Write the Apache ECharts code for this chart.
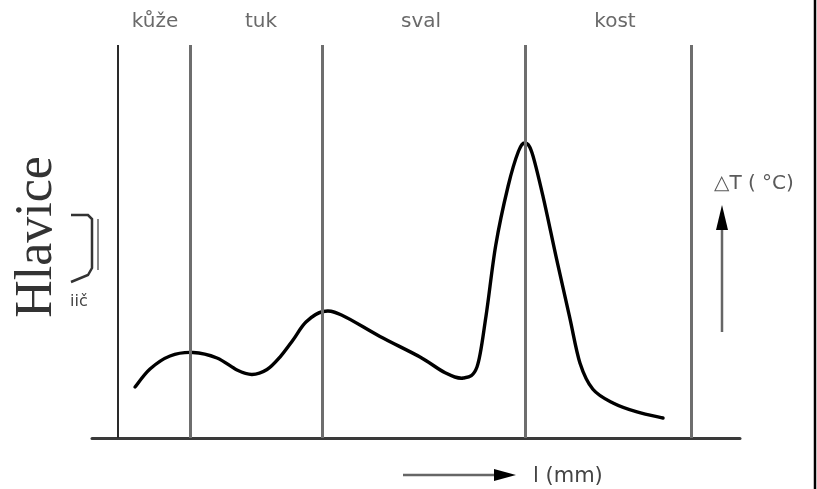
<!DOCTYPE html>
<html>
<head>
<meta charset="utf-8">
<script src="https://cdn.jsdelivr.net/npm/echarts@6/dist/echarts.min.js"></script>
<style>
  html, body { margin: 0; padding: 0; background: #fff; }
  #chart { width: 817px; height: 489px; }
</style>
</head>
<body>
<div id="chart"></div>
<script>
// depth along the section (relative units, 0..100 across the baseline)
const depth = [6.64, 8.95, 12.04, 15.59, 19.29, 22.38, 24.69, 27.01, 29.01, 31.02, 33.02,
  35.65, 38.5, 44.44, 50.62, 54.5, 57.3, 59.41, 60.8, 62.3, 64.2, 65.8, 66.82, 67.9, 69.6,
  71.7, 73.7, 75.3, 77.3, 80.4, 84.1, 88.12];
// temperature rise (relative units, 0..100 of plot height)
const deltaT = [12.98, 17.56, 20.87, 21.76, 20.36, 17.30, 16.16, 17.43, 20.61, 24.94, 29.52,
  32.19, 31.3, 25.83, 20.61, 16.6, 15.27, 18.07, 31.0, 49.0, 64.0, 72.9, 75.06, 72.6, 61.5,
  45.5, 30.8, 19.1, 12.4, 8.9, 6.62, 5.09];
// tissue boundaries and layer names
const boundaries = [4.01, 15.12, 35.49, 66.82, 92.44];
const layerNames = ['kůže', 'tuk', 'sval', 'kost'];
const layerCenters = [9.72, 26.08, 50.77, 80.71];

const myChart = echarts.init(document.getElementById('chart'));

// smooth curve through all points (Catmull-Rom), positions from the axes
function renderCurve(params, api) {
  if (params.dataIndex !== 0) return null;
  const pts = depth.map((d, i) => api.coord([d, deltaT[i]]));
  let path = 'M' + pts[0][0] + ' ' + pts[0][1];
  for (let i = 0; i < pts.length - 1; i++) {
    const p0 = pts[i - 1] || pts[i];
    const p1 = pts[i];
    const p2 = pts[i + 1];
    const p3 = pts[i + 2] || p2;
    const c1 = [p1[0] + (p2[0] - p0[0]) / 6, p1[1] + (p2[1] - p0[1]) / 6];
    const c2 = [p2[0] - (p3[0] - p1[0]) / 6, p2[1] - (p3[1] - p1[1]) / 6];
    path += ' C' + c1[0] + ' ' + c1[1] + ' ' + c2[0] + ' ' + c2[1] + ' ' + p2[0] + ' ' + p2[1];
  }
  return {
    type: 'path',
    shape: { pathData: path },
    style: { stroke: '#000', lineWidth: 3.4, fill: null, lineJoin: 'round', lineCap: 'round' }
  };
}

const option = {
  animation: false,
  backgroundColor: '#fff',
  grid: { left: 92, right: 77, top: 45, bottom: 51 },
  xAxis: [
    {
      type: 'value',
      min: 0,
      max: 100,
      axisLine: { show: true, lineStyle: { color: '#3a3a3a', width: 3 } },
      axisTick: { show: false },
      axisLabel: { show: false },
      splitLine: { show: false }
    },
    {
      type: 'value',
      position: 'top',
      min: 0,
      max: 100,
      axisLine: { show: false },
      axisTick: { show: false },
      splitLine: { show: false },
      axisLabel: {
        show: true,
        customValues: layerCenters,
        margin: 13,
        color: '#6a6a6a',
        fontSize: 20,
        fontFamily: '"DejaVu Sans", sans-serif',
        formatter: function (v) {
          const i = layerCenters.indexOf(v);
          return i >= 0 ? layerNames[i] : '';
        }
      }
    }
  ],
  yAxis: {
    type: 'value',
    min: 0,
    max: 100,
    show: false
  },
  series: [
    {
      type: 'line',
      data: [],
      markLine: {
        silent: true,
        symbol: 'none',
        label: { show: false },
        data: boundaries.map((b, i) => ({
          xAxis: b,
          lineStyle: { color: i === 0 ? '#2a2a2a' : '#6e6e6e', width: i === 0 ? 2 : 3, type: 'solid' }
        }))
      }
    },
    {
      type: 'custom',
      renderItem: renderCurve,
      data: depth.map((d, i) => [d, deltaT[i]]),
      encode: { x: 0, y: 1 },
      z: 3
    }
  ],
  graphic: [
    // scan border on the right
    { type: 'line', shape: { x1: 815, y1: 0, x2: 815, y2: 489 }, style: { stroke: '#000', lineWidth: 2.5 } },
    // rotated title
    {
      type: 'text',
      x: 37,
      y: 237,
      rotation: Math.PI / 2,
      style: {
        text: 'Hlavice',
        fill: '#333',
        font: '52px "Liberation Serif", "DejaVu Serif", serif',
        align: 'center',
        verticalAlign: 'middle'
      }
    },
    // bracket next to the title
    {
      type: 'polyline',
      shape: { points: [[71, 215], [88, 215], [92, 219], [92, 268], [88, 275], [71, 282]] },
      style: { stroke: '#333', lineWidth: 2.5, fill: null }
    },
    {
      type: 'line',
      shape: { x1: 98, y1: 219, x2: 98, y2: 270 },
      style: { stroke: '#888', lineWidth: 2 }
    },
    {
      type: 'text',
      x: 70,
      y: 302,
      style: {
        text: 'iič',
        fill: '#444',
        font: '16px "DejaVu Sans", sans-serif',
        verticalAlign: 'middle'
      }
    },
    // right axis label and arrow
    {
      type: 'text',
      x: 714,
      y: 184,
      style: {
        text: '△T ( °C)',
        fill: '#5a5a5a',
        font: '20px "DejaVu Sans", sans-serif',
        verticalAlign: 'middle'
      }
    },
    { type: 'line', shape: { x1: 722, y1: 332, x2: 722, y2: 222 }, style: { stroke: '#666', lineWidth: 2.5 } },
    { type: 'polygon', shape: { points: [[722, 205], [716, 230], [728, 230]] }, style: { fill: '#000' } },
    // bottom axis label and arrow
    { type: 'line', shape: { x1: 403, y1: 475, x2: 500, y2: 475 }, style: { stroke: '#666', lineWidth: 2.5 } },
    { type: 'polygon', shape: { points: [[516, 475], [494, 469], [494, 481]] }, style: { fill: '#000' } },
    {
      type: 'text',
      x: 533,
      y: 477,
      style: {
        text: 'l (mm)',
        fill: '#444',
        font: '21px "DejaVu Sans", sans-serif',
        verticalAlign: 'middle'
      }
    }
  ]
};

myChart.setOption(option);
</script>
</body>
</html>
